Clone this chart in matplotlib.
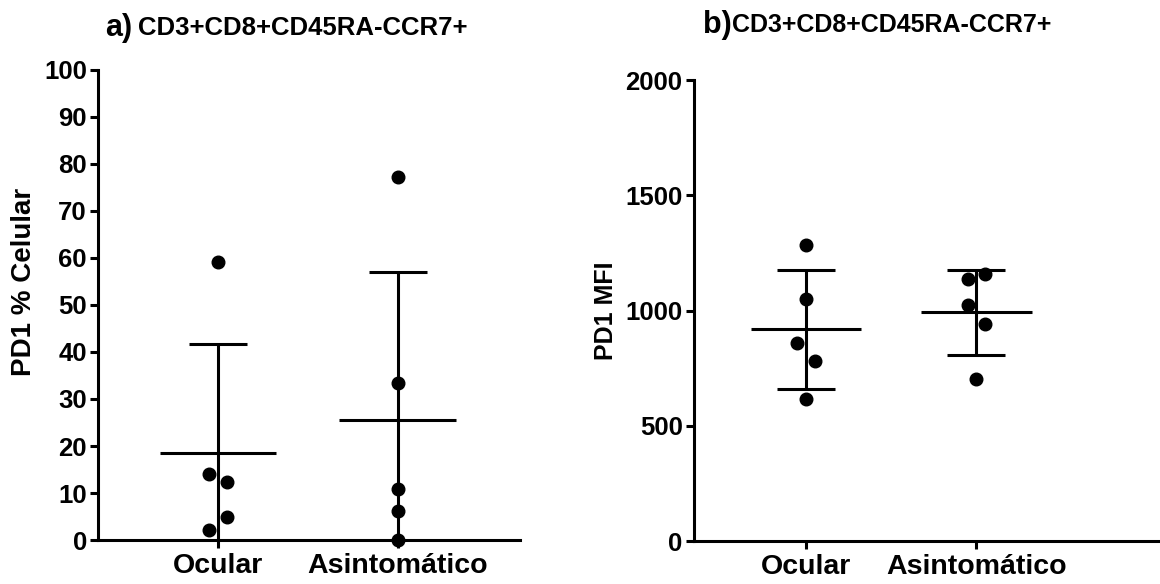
import numpy as np
import matplotlib
matplotlib.use("Agg")
import matplotlib.pyplot as plt

plt.rcParams['font.family'] = ['Liberation Sans', 'DejaVu Sans']
plt.rcParams['font.weight'] = 'bold'

# Data
groups = ['Ocular', 'Asintomático']

pct_ocular = [59.2, 14.0, 12.4, 4.8, 2.1]
pct_asint = [77.2, 33.3, 10.9, 6.2, 0.0]

mfi_ocular = [1284, 1048, 860, 781, 616]
mfi_asint = [1135, 1158, 1024, 940, 701]

# small horizontal scatter of the dots (as in the original)
jit_pct_ocular = [0, -1, 1, 1, -1]
jit_pct_asint = [0, 0, 0, 0, 0]
jit_mfi_ocular = [0, 0, -1, 1, 0]
jit_mfi_asint = [-1, 1, -1, 1, 0]

pct_ticks = list(range(0, 101, 10))
mfi_ticks = [0, 500, 1000, 1500, 2000]

fig = plt.figure(figsize=(11.6, 5.84), dpi=100)
ax1 = fig.add_axes([0.0845, 0.0753, 0.3635, 0.805])
ax2 = fig.add_axes([0.598, 0.0736, 0.402, 0.7894])


def draw_panel(ax, data, jitters, ylim, ticks, ylabel, xlim, label_size):
    for i, (vals, jit) in enumerate(zip(data, jitters)):
        vals = np.array(vals, dtype=float)
        m = vals.mean()
        sd = vals.std(ddof=1)
        ax.errorbar(i, m, yerr=sd, fmt='none', ecolor='black', elinewidth=2.2,
                    capsize=21, capthick=2.2, zorder=2)
        ax.hlines(m, i - 0.325, i + 0.325, color='black', lw=2.2, zorder=2)
        xs = i + 0.05 * np.array(jit)
        ax.scatter(xs, vals, s=82, color='black', zorder=3, clip_on=False)
    ax.set_xlim(*xlim)
    ax.set_ylim(*ylim)
    ax.set_yticks(ticks)
    ax.set_xticks(range(len(groups)))
    ax.set_xticklabels(groups, fontsize=20.5, fontweight='bold')
    ax.tick_params(axis='y', labelsize=18.5, width=2.2, length=6, pad=2)
    ax.tick_params(axis='x', width=2.2, length=6, pad=3.5)
    for s in ['top', 'right']:
        ax.spines[s].set_visible(False)
    for s in ['left', 'bottom']:
        ax.spines[s].set_linewidth(2.2)
    ax.set_ylabel(ylabel, fontsize=label_size, fontweight='bold')


draw_panel(ax1, [pct_ocular, pct_asint], [jit_pct_ocular, jit_pct_asint],
           (0, 100), pct_ticks, 'PD1 % Celular', (-0.667, 1.678), 20)
ax1.yaxis.set_label_coords(-0.145, 0.55)

draw_panel(ax2, [mfi_ocular, mfi_asint], [jit_mfi_ocular, jit_mfi_asint],
           (0, 2000), mfi_ticks, 'PD1 MFI', (-0.66, 2.08), 18)
ax2.yaxis.set_label_coords(-0.163, 0.5)

# panel titles
fig.text(105 / 1160, 1 - 28 / 584, 'a)', fontsize=22, fontweight='bold', va='center')
fig.text(138 / 1160, 1 - 28 / 584, 'CD3+CD8+CD45RA-CCR7+', fontsize=18.5, fontweight='bold', va='center')
fig.text(703 / 1160, 1 - 25 / 584, 'b)', fontsize=22, fontweight='bold', va='center')
fig.text(732 / 1160, 1 - 25 / 584, 'CD3+CD8+CD45RA-CCR7+', fontsize=18, fontweight='bold', va='center')

fig.savefig('out.png', dpi=100)
